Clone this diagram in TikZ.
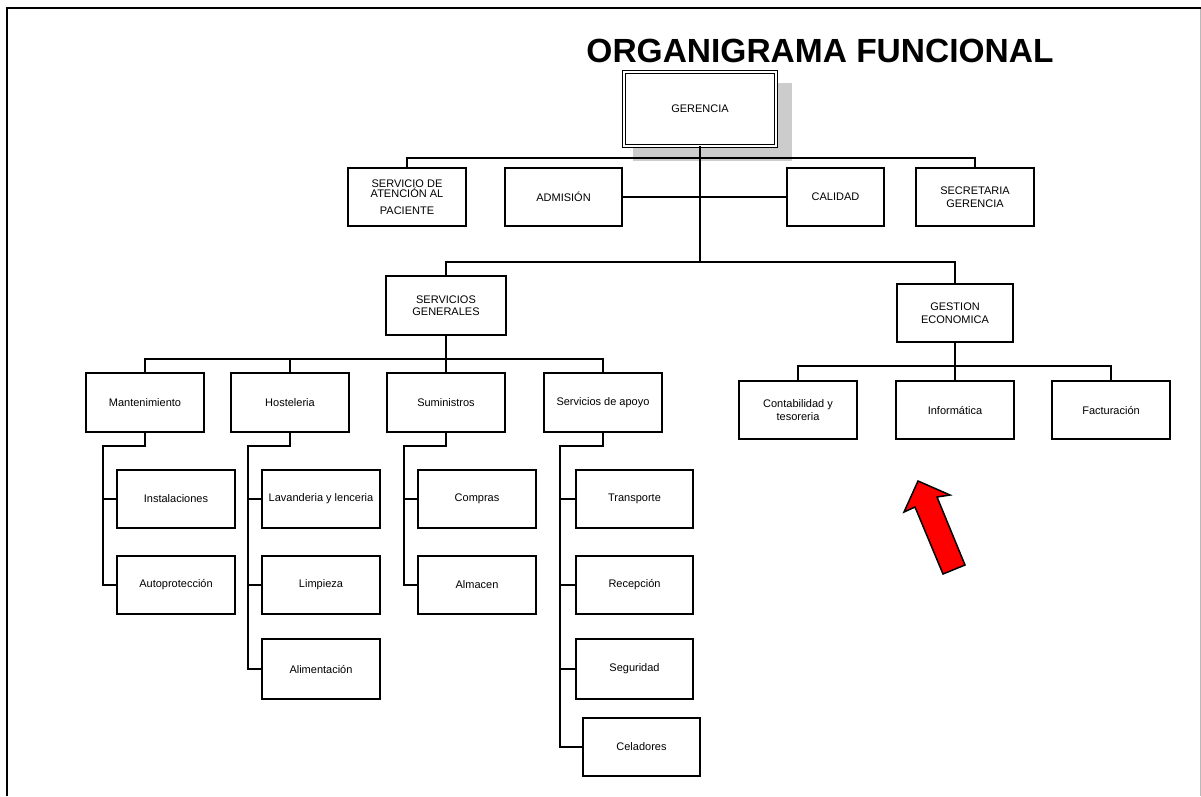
\documentclass[tikz,border=0pt]{standalone}
\usepackage{fontspec}
\setmainfont{Liberation Sans}
\begin{document}
\begin{tikzpicture}[x=1pt,y=-1pt,
  box/.style={draw=black, line width=1.5pt, fill=white, inner sep=1pt, outer sep=0pt,
    align=center, font=\fontsize{11}{12.5}\selectfont},
  sz/.style 2 args={minimum width=#1pt, minimum height=#2pt},
  wire/.style={draw=black, line width=1.5pt},
  headbox/.style={box, double=white, double distance=1.8pt, line width=1.1pt}]
\useasboundingbox (0,0) rectangle (1201,796);

% page frame
\draw[line width=2pt] (6.5,796) -- (6.5,7.5) -- (1201,7.5);
\draw[gray!55, line width=1pt] (1200,9) -- (1200,796);

% title
\node[font=\fontsize{33.5}{40}\selectfont\bfseries, inner sep=0pt] (title) at (820,51) {ORGANIGRAMA FUNCIONAL};

% head box with its shadow
\fill[gray!40] (633,83) rectangle (792,161);
\node[headbox, sz={152}{74}] (ger) at (700,109) {GERENCIA};

% staff units
\node[box, sz={118}{58}] (sap) at (407,197) {SERVICIO DE\\[-2.5pt]ATENCIÓN AL\\[4pt]PACIENTE};
\node[box, sz={117}{58}] (adm) at (563.5,197) {ADMISIÓN};
\node[box, sz={97}{58}] (cal) at (835.5,197) {CALIDAD};
\node[box, sz={118}{58}] (sec) at (975,197) {SECRETARIA\\GERENCIA};

% main divisions
\node[box, sz={120}{59}] (sg) at (446,305.5) {SERVICIOS\\GENERALES};
\node[box, sz={116}{58}] (ge) at (955,313) {GESTION\\ECONOMICA};

% general services departments
\node[box, sz={118}{59}] (man) at (145,402.5) {Mantenimiento};
\node[box, sz={118}{59}] (hos) at (290,402.5) {Hosteleria};
\node[box, sz={118}{59}] (sum) at (446,402.5) {Suministros};
\node[box, sz={118}{59}] (apo) at (603,402.5) {Servicios de apoyo};

% economic management departments
\node[box, sz={118}{58}] (con) at (798,410) {Contabilidad y\\tesoreria};
\node[box, sz={118}{58}] (inf) at (955,410) {Informática};
\node[box, sz={118}{58}] (fac) at (1111,410) {Facturación};

% sections
\node[box, sz={118}{58}] (ins) at (176,499) {Instalaciones};
\node[box, sz={118}{58}] (aut) at (176,585) {Autoprotección};
\node[box, sz={118}{58}] (lav) at (321,499) {Lavanderia y lenceria};
\node[box, sz={118}{58}] (lim) at (321,585) {Limpieza};
\node[box, sz={118}{60}] (ali) at (321,669) {Alimentación};
\node[box, sz={118}{58}] (com) at (477,499) {Compras};
\node[box, sz={118}{58}] (alm) at (477,585) {Almacen};
\node[box, sz={117}{58}] (tra) at (634.5,499) {Transporte};
\node[box, sz={117}{58}] (rec) at (634.5,585) {Recepción};
\node[box, sz={117}{60}] (seg) at (634.5,669) {Seguridad};
\node[box, sz={117}{58}] (cel) at (641.5,747) {Celadores};

% bus junctions
\coordinate (j1) at (700,158);
\coordinate (j2) at (700,262);
\coordinate (b3) at (446,359);
\coordinate (b4) at (955,366);
\coordinate (tm) at (103,446);
\coordinate (th) at (248,446);
\coordinate (ts) at (404,446);
\coordinate (ta) at (560,446);

% top level
\draw[wire] (ger.south) -- (j2);
\draw[wire] (sap.north) |- (j1) -| (sec.north);
\draw[wire] (adm.east) -- (cal.west);
\draw[wire] (sg.north) |- (j2) -| (ge.north);

% division buses
\draw[wire] (sg.south) -- (b3);
\draw[wire] (man.north) |- (b3) -| (apo.north);
\draw[wire] (hos.north) -- (hos.north |- b3);
\draw[wire] (sum.north) -- (sum.north |- b3);
\draw[wire] (ge.south) -- (b4);
\draw[wire] (con.north) |- (b4) -| (fac.north);
\draw[wire] (inf.north) -- (inf.north |- b4);

% section trunks
\draw[wire] (man.south) |- (tm) |- (aut.west);
\draw[wire] (ins.west) -- (ins.west -| tm);
\draw[wire] (hos.south) |- (th) |- (ali.west);
\draw[wire] (lav.west) -- (lav.west -| th);
\draw[wire] (lim.west) -- (lim.west -| th);
\draw[wire] (sum.south) |- (ts) |- (alm.west);
\draw[wire] (com.west) -- (com.west -| ts);
\draw[wire] (apo.south) |- (ta) |- (cel.west);
\draw[wire] (tra.west) -- (tra.west -| ta);
\draw[wire] (rec.west) -- (rec.west -| ta);
\draw[wire] (seg.west) -- (seg.west -| ta);

% pointer arrow
\filldraw[fill=red, draw=black, line width=1.5pt, line join=miter]
  (918,481) -- (950,495) -- (937,497) -- (965,565) -- (943,574)
  -- (915,507) -- (904,512) -- cycle;
\end{tikzpicture}
\end{document}
